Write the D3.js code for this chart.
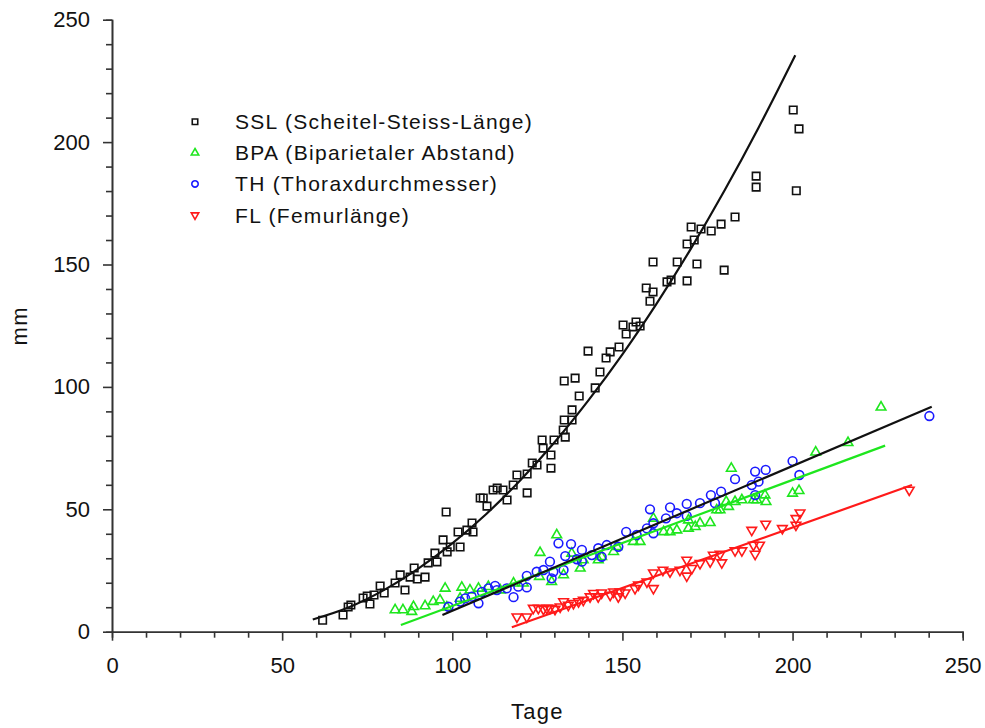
<!DOCTYPE html>
<html><head><meta charset="utf-8">
<script src="https://cdn.jsdelivr.net/npm/d3@7"></script>
<style>
html,body{margin:0;padding:0;background:#fff;}
svg text{font-family:"Liberation Sans",Arial,sans-serif;fill:#111;}
</style></head>
<body><svg id="c" width="985" height="728"></svg>
<script>
// ---- data ----
const xTicks = [0, 50, 100, 150, 200, 250];
const yTicks = [0, 50, 100, 150, 200, 250];
const seriesNames = ["SSL (Scheitel-Steiss-Länge)", "BPA (Biparietaler Abstand)", "TH (Thoraxdurchmesser)", "FL (Femurlänge)"];
const seriesColors = ["#111111", "#1ee61e", "#1a1aff", "#ff1a1a"];

const sslX = [61.9,67.9,69.4,70.2,73.8,75.0,75.8,77.0,78.8,80.0,83.2,84.7,86.1,87.6,88.8,89.7,92.0,92.9,94.9,95.5,97.3,98.2,98.5,99.4,101.7,102.3,104.3,105.8,106.1,108.2,109.1,110.2,112.0,113.2,114.9,116.1,117.9,119.0,122.0,122.0,123.5,124.9,126.4,126.7,129.0,129.0,129.9,132.6,133.2,132.9,135.2,135.2,132.9,136.1,137.3,139.9,142.0,143.4,145.2,146.4,149.0,151.1,150.2,153.1,154.0,155.2,158.1,159.0,157.0,159.0,163.1,164.3,166.1,169.0,169.0,171.1,171.9,170.2,173.1,176.1,179.0,179.9,183.1,189.3,189.3,200.2,201.9,201.1];
const sslY = [4.7,6.8,10.1,10.9,13.8,14.6,11.3,15.0,18.7,15.8,19.9,23.2,17.0,22.3,26.0,21.5,22.3,28.1,32.1,28.5,37.5,48.9,32.6,34.6,40.7,34.6,41.5,44.4,40.7,54.6,54.6,51.3,57.9,58.7,57.9,53.8,59.9,64.0,56.7,64.4,68.9,68.1,78.3,75.0,72.2,66.8,78.3,82.4,79.5,86.5,90.6,86.5,102.4,103.6,96.3,114.6,99.6,106.1,111.8,114.3,116.3,121.6,125.3,124.5,126.5,124.9,135.0,138.8,140.4,151.0,142.9,143.7,151.0,143.3,158.4,160.0,150.2,165.3,164.5,163.7,166.5,147.7,169.4,186.1,181.6,213.1,205.4,180.1];

const bpaX = [83.2,85.5,88.1,88.6,92.0,94.4,96.4,97.9,98.4,102.3,102.8,105.2,107.7,110.6,114.1,118.0,120.9,125.8,125.6,129.2,130.7,132.7,135.1,137.6,138.5,142.9,143.9,147.4,148.4,153.2,155.2,159.1,162.1,164.0,166.0,169.4,169.4,171.4,172.8,175.8,177.7,178.7,180.5,181.2,183.1,185.1,182.0,188.5,189.5,191.9,192.2,200.0,201.9,206.8,216.3,226.0];
const bpaY = [8.9,8.9,8.2,10.2,10.5,12.3,12.9,17.7,10.0,13.6,18.1,17.0,17.7,18.4,17.0,19.8,19.8,32.3,22.5,20.4,39.5,23.2,32.0,25.9,29.3,29.3,30.6,32.7,34.7,36.8,36.8,46.3,40.8,40.8,41.5,42.2,45.6,42.9,44.3,44.5,49.7,49.7,53.1,51.1,53.1,53.8,66.7,53.8,53.8,55.8,53.1,56.5,57.6,73.3,77.2,91.7];

const thX = [98.9,102.3,103.8,105.7,107.7,108.7,110.6,112.6,113.1,116.0,118.0,119.4,121.9,121.9,124.8,126.8,129.2,128.7,129.7,131.2,132.7,133.2,134.9,136.6,138.1,138.1,141.0,142.9,143.9,145.4,148.8,151.1,154.2,157.2,158.1,159.1,159.1,162.8,164.0,166.0,168.9,168.9,172.8,176.0,177.2,179.0,183.1,188.0,189.0,189.0,190.0,192.1,200.0,202.0,240.2];
const thY = [10.2,12.3,13.6,14.3,11.6,16.3,17.7,18.7,17.0,17.7,14.1,18.4,18.1,22.8,24.5,25.2,21.8,28.6,24.5,36.1,25.2,30.9,35.8,29.6,28.6,33.4,31.3,34.1,30.6,35.4,34.7,40.8,39.5,42.2,50.0,44.3,40.2,46.3,50.8,48.4,47.3,52.2,52.5,55.8,52.5,57.2,62.3,59.9,65.4,55.8,61.3,66.1,69.7,64.0,88.1];

const flX = [119.0,121.9,123.8,125.3,126.8,127.8,128.7,130.2,131.7,132.7,134.1,135.6,137.1,138.5,140.5,141.5,142.9,143.9,146.4,147.4,148.8,149.3,150.8,153.7,154.7,157.2,159.1,159.1,161.9,164.0,166.9,168.9,168.9,170.4,172.8,175.8,176.7,178.7,179.2,183.1,185.1,188.0,188.5,189.0,190.3,192.1,197.0,201.0,201.0,202.2,234.3];
const flY = [6.1,6.1,9.6,9.6,9.2,9.6,9.6,9.2,10.2,12.3,10.9,11.6,12.3,12.9,14.3,15.7,14.3,15.9,15.0,16.3,14.3,16.3,15.9,17.7,19.1,20.4,17.7,24.1,25.2,24.5,25.2,29.3,22.8,25.9,27.9,28.6,31.3,31.7,28.2,33.1,33.1,41.5,35.4,31.7,35.4,44.0,42.2,43.6,46.3,48.6,57.9];

// fitted curves
const sslFitX = [59, 70, 80, 90, 100, 110, 120, 130, 140, 150, 160, 170, 180, 190, 200.8];
const sslFitY = [5, 10.2, 17.1, 25.8, 36.1, 48.1, 61.9, 77.3, 94.5, 113.3, 133.9, 156.2, 180.2, 205.9, 235.5];
const bpaFitX = [84.9, 227.2];
const bpaFitY = [2.7, 76.0];
const thFitX = [97.1, 240.9];
const thFitY = [6.8, 91.9];
const flFitX = [117.5, 235.1];
const flFitY = [1.8, 59.9];

// ---- drawing ----
const svg = d3.select("#c");
const L = 112, R = 962.7, T = 19.7, B = 631.7;
const x = d3.scaleLinear().domain([0, 250]).range([L, R]);
const y = d3.scaleLinear().domain([0, 250]).range([B, T]);

const minorX = d3.range(0, 251, 10).filter(v => v % 50 !== 0);
const minorY = d3.range(0, 251, 10).filter(v => v % 50 !== 0);

function styleAxis(g) {
  g.selectAll("path.domain").attr("stroke", "#333").attr("stroke-width", 1.6);
  g.selectAll(".tick line").attr("stroke", "#333").attr("stroke-width", 1.6);
}
// minor
svg.append("g").attr("transform", `translate(0,${B})`)
  .call(d3.axisBottom(x).tickValues(minorX).tickSize(6).tickFormat(""))
  .call(styleAxis);
svg.append("g").attr("transform", `translate(${L},0)`)
  .call(d3.axisLeft(y).tickValues(minorY).tickSize(6).tickFormat(""))
  .call(styleAxis);
// major
const gx = svg.append("g").attr("transform", `translate(0,${B})`)
  .call(d3.axisBottom(x).tickValues(xTicks).tickSize(9).tickSizeOuter(0).tickPadding(17).tickFormat(d3.format("d")))
  .call(styleAxis);
gx.selectAll("text").attr("font-size", 22).attr("fill", "#111").attr("font-family", "Liberation Sans, Arial, sans-serif");
const gy = svg.append("g").attr("transform", `translate(${L},0)`)
  .call(d3.axisLeft(y).tickValues(yTicks).tickSize(9).tickSizeOuter(0).tickPadding(13).tickFormat(d3.format("d")))
  .call(styleAxis);
gy.selectAll("text").attr("font-size", 22).attr("fill", "#111").attr("font-family", "Liberation Sans, Arial, sans-serif");

svg.append("text").attr("x", (L + R) / 2).attr("y", 719).attr("text-anchor", "middle")
  .attr("font-size", 22).attr("letter-spacing", 1.2).text("Tage");
svg.append("text").attr("transform", `translate(27,${(T + B) / 2}) rotate(-90)`)
  .attr("text-anchor", "middle").attr("font-size", 22).attr("letter-spacing", 1.5).text("mm");

// fit lines
const line = d3.line().x(d => x(d[0])).y(d => y(d[1]));
const curve = d3.line().x(d => x(d[0])).y(d => y(d[1])).curve(d3.curveMonotoneX);
const fits = [
  [sslFitX, sslFitY, seriesColors[0], curve],
  [bpaFitX, bpaFitY, seriesColors[1], line],
  [thFitX, thFitY, "#111111", line],
  [flFitX, flFitY, seriesColors[3], line]
];

// markers
const symSquare = d3.symbol().type(d3.symbolSquare).size(56)();
const symTri = d3.symbol().type(d3.symbolTriangle).size(40)();
const symCircle = d3.symbol().type(d3.symbolCircle).size(60)();
const syms = [[symSquare, 0], [symTri, 0], [symCircle, 0], [symTri, 180]];
const data = [[sslX, sslY], [bpaX, bpaY], [thX, thY], [flX, flY]];

data.forEach((s, i) => {
  const pts = s[0].map((v, k) => [v, s[1][k]]);
  svg.append("g").selectAll("path").data(pts).join("path")
    .attr("d", syms[i][0])
    .attr("transform", d => `translate(${x(d[0])},${y(d[1])}) rotate(${syms[i][1]})`)
    .attr("fill", "none").attr("stroke", seriesColors[i]).attr("stroke-width", 1.6);
});

fits.forEach(f => {
  const pts = f[0].map((v, k) => [v, f[1][k]]);
  svg.append("path").attr("d", f[3](pts)).attr("fill", "none")
    .attr("stroke", f[2]).attr("stroke-width", 2.2);
});

// legend
const legY0 = 121.7, legDy = 31.1;
const legSyms = [
  d3.symbol().type(d3.symbolSquare).size(30)(),
  d3.symbol().type(d3.symbolTriangle).size(24)(),
  d3.symbol().type(d3.symbolCircle).size(32)(),
  d3.symbol().type(d3.symbolTriangle).size(24)()
];
seriesNames.forEach((n, i) => {
  const yy = legY0 + i * legDy;
  svg.append("path").attr("d", legSyms[i])
    .attr("transform", `translate(195,${yy}) rotate(${syms[i][1]})`)
    .attr("fill", "none").attr("stroke", seriesColors[i]).attr("stroke-width", 1.6);
  svg.append("text").attr("x", 235).attr("y", yy + 7.5).attr("font-size", 21)
    .attr("letter-spacing", 1.3).text(n);
});
</script>
</body></html>
